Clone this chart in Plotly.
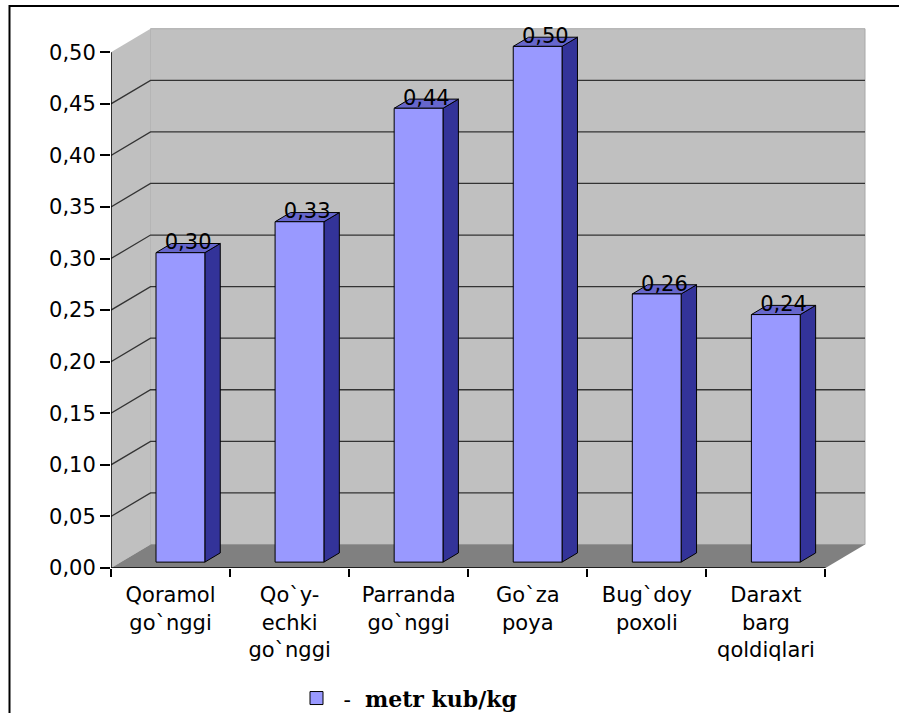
import plotly.graph_objects as go

categories = ["Qoramol<br>go`nggi", "Qo`y-<br>echki<br>go`nggi", "Parranda<br>go`nggi",
              "Go`za<br>poya", "Bug`doy<br>poxoli", "Daraxt<br>barg<br>qoldiqlari"]
values = [0.30, 0.33, 0.44, 0.50, 0.26, 0.24]
value_labels = ["0,30", "0,33", "0,44", "0,50", "0,26", "0,24"]
y_ticks = [0.00, 0.05, 0.10, 0.15, 0.20, 0.25, 0.30, 0.35, 0.40, 0.45, 0.50]
series_name = "\u00a0-\u00a0\u00a0<b>metr kub/kg</b>"

# pseudo-3D geometry (in data units)
DX, DY = 0.332, 0.0228      # depth offset of the back wall
F0, F1 = 0.25, 0.64         # bar depth start / end (fraction of depth)
W = 0.41                    # bar width
N = len(categories)
YMAX = y_ticks[-1]

FONT = "DejaVu Sans"
fig = go.Figure()

def poly(xs, ys, fill, line_color=None, lw=1):
    fig.add_trace(go.Scatter(
        x=xs, y=ys, mode="lines", fill="toself", fillcolor=fill,
        line=dict(color=line_color or fill, width=lw if line_color else 0),
        hoverinfo="skip", showlegend=False))

# walls and floor
poly([DX, N + DX, N + DX, DX, DX], [DY, DY, YMAX + DY, YMAX + DY, DY], "#c0c0c0", "#a8a8a8", 1)
poly([0, DX, DX, 0, 0], [0, DY, YMAX + DY, YMAX, 0], "#c0c0c0")
poly([0, N, N + DX, DX, 0], [0, 0, DY, DY, 0], "#808080")

# gridlines on back wall + diagonals on left wall
gx, gy = [], []
for v in y_ticks[1:-1]:
    gx += [0, DX, N + DX, None]
    gy += [v, v + DY, v + DY, None]
fig.add_trace(go.Scatter(x=gx, y=gy, mode="lines", line=dict(color="#333333", width=1.3),
                         hoverinfo="skip", showlegend=False))

# front axis lines
fig.add_trace(go.Scatter(x=[0, 0, N], y=[YMAX, 0, 0], mode="lines",
                         line=dict(color="black", width=1.5), hoverinfo="skip", showlegend=False))

# bars
fx, fy, sx, sy, tx, ty = [], [], [], [], [], []
b0 = DY * F0
ddx, ddy = DX * (F1 - F0), DY * (F1 - F0)
for i, v in enumerate(values):
    xl = i + 0.5 - W / 2 + DX * F0
    xr = xl + W
    fx += [xl, xr, xr, xl, xl, None]
    fy += [b0, b0, b0 + v, b0 + v, b0, None]
    sx += [xr, xr + ddx, xr + ddx, xr, xr, None]
    sy += [b0, b0 + ddy, b0 + v + ddy, b0 + v, b0, None]
    tx += [xl, xr, xr + ddx, xl + ddx, xl, None]
    ty += [b0 + v, b0 + v, b0 + v + ddy, b0 + v + ddy, b0 + v, None]
for xs, ys, col in [(sx, sy, "#333399"), (tx, ty, "#6666cc"), (fx, fy, "#9999ff")]:
    fig.add_trace(go.Scatter(x=xs, y=ys, mode="lines", fill="toself", fillcolor=col,
                             line=dict(color="black", width=1), hoverinfo="skip", showlegend=False))

# data labels
fig.add_trace(go.Scatter(
    x=[i + 0.5 + DX * (F0 + F1) / 2 for i in range(N)],
    y=[v + DY * F1 - 0.0005 for v in values],
    mode="text", text=value_labels, textposition="middle center",
    textfont=dict(family=FONT, size=21, color="black"),
    hoverinfo="skip", showlegend=False))

# legend entry
fig.add_trace(go.Scatter(x=[None], y=[None], mode="markers", name=series_name,
                         marker=dict(symbol="square", size=13, color="#9999ff",
                                     line=dict(color="black", width=1))))

# the captured viewport is a little taller than 713 and is squeezed to 713,
# so vertical pixel targets are stretched by SY
SY = 730 / 713
FIG_W, FIG_H = 899, 730
PL, PR = 111, 885
PT, PB = 11 * SY, 567 * SY
L, T = PL, PT
R, B = FIG_W - PR, FIG_H - PB
PW, PH = PR - PL, PB - PT

def px_x(p):
    return (p - PL) / PW

def px_y(p):
    return (PB - p * SY) / PH

fig.update_layout(
    width=FIG_W, height=FIG_H,
    margin=dict(l=L, r=R, t=T, b=B, pad=0),
    paper_bgcolor="white", plot_bgcolor="white",
    separators=", ",
    font=dict(family=FONT, size=21, color="black"),
    showlegend=True,
    legend=dict(x=px_x(296.5), y=px_y(697), xanchor="left", yanchor="middle",
                font=dict(family="DejaVu Serif", size=22, color="black"),
                bgcolor="rgba(0,0,0,0)"),
    xaxis=dict(range=[0, N + 0.5], tickmode="array",
               tickvals=[i + 0.5 for i in range(N)], ticktext=categories,
               ticks="outside", ticklen=8, tickcolor="rgba(0,0,0,0)",
               minor=dict(ticks="outside", tickmode="array", tickvals=list(range(N + 1)),
                          ticklen=8, tickcolor="black", tickwidth=1.5),
               showgrid=False, zeroline=False, showline=False,
               tickfont=dict(family=FONT, size=21, color="black")),
    yaxis=dict(range=[0, 0.54], tickmode="array", tickvals=y_ticks, tickformat=".2f",
               ticks="outside", ticklen=10, tickcolor="black", tickwidth=1.5,
               showgrid=False, zeroline=False, showline=False,
               tickfont=dict(family=FONT, size=21, color="black")),
    shapes=[dict(type="path", xref="paper", yref="paper",
                 path=f"M{px_x(9.5)},{px_y(760)} L{px_x(9.5)},{px_y(6)} L{px_x(905)},{px_y(6)}",
                 line=dict(color="black", width=2))],
)

fig.write_html("out.html", config={"displayModeBar": False},
               post_script="document.body.style.margin='0';document.body.style.overflow='hidden';")
